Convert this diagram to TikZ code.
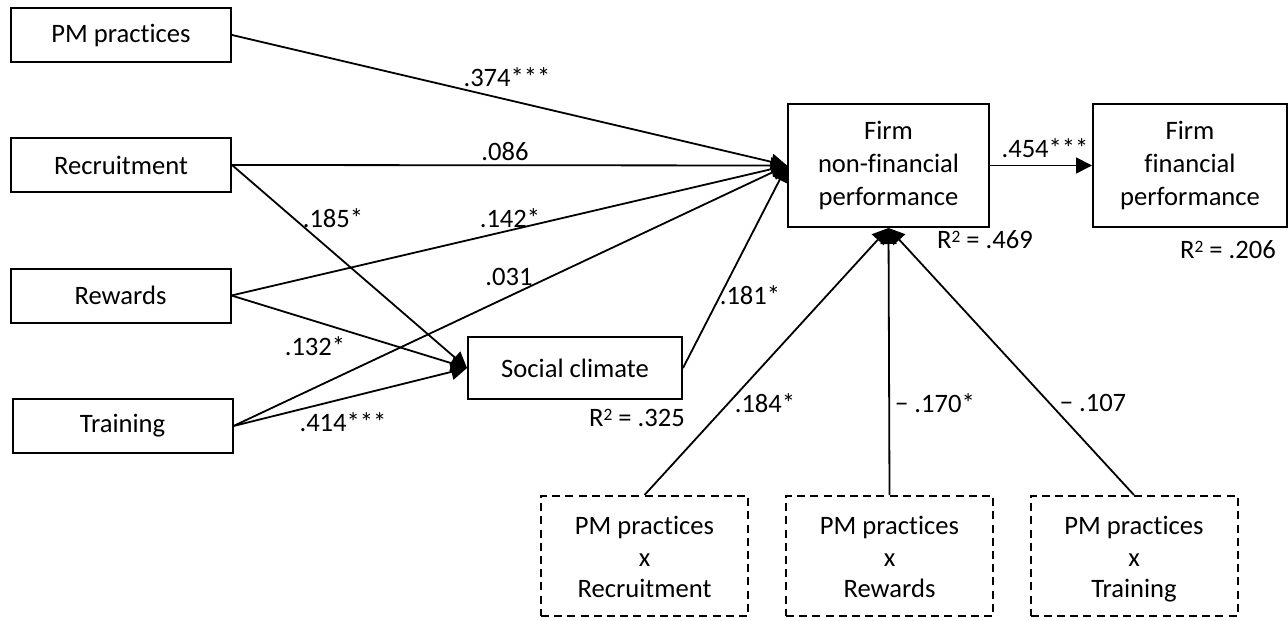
\documentclass[tikz,border=0pt]{standalone}
\usepackage{fontspec}
\setmainfont{Carlito}[Ligatures={NoCommon,NoContextual}]
\usetikzlibrary{arrows.meta}
\newcommand{\rsq}{R\raisebox{3.1pt}{\fontsize{8.7}{9}\selectfont 2}}
\newcommand{\ibox}[1]{\raisebox{-2pt}[\height][\depth]{\renewcommand{\arraystretch}{0.955}\begin{tabular}{@{}c@{}}#1\end{tabular}}}
\begin{document}
\begin{tikzpicture}[x=0.5pt,y=-0.5pt,
 box/.style={draw, line width=1pt, inner sep=0pt, align=center, font=\fontsize{13.3}{16.5}\selectfont},
 lbox/.style={box, minimum width=110pt, minimum height=27pt},
 dbox/.style={box, dash pattern=on 4pt off 2.6pt, minimum width=103.5pt, minimum height=60pt},
 lab/.style={inner sep=0pt, font=\fontsize{13.3}{16}\selectfont},
 arr/.style={line width=0.9pt, -{Triangle[length=8pt,width=8pt]}}
]
\useasboundingbox (0,0) rectangle (1288,620);
\node[lbox] (pm)  at (121,35)    {PM practices};
\node[lbox] (rec) at (121,165)   {Recruitment};
\node[lbox] (rew) at (120.5,295.5) {Rewards};
\node[lbox] (tr)  at (122.5,426) {Training};
\node[box, minimum width=107pt, minimum height=31pt] (sc) at (575,368) {Social climate};
\node[box, minimum width=100.5pt, minimum height=61.5pt] (nf) at (888.5,165.5) {\strut Firm\\non-financial\\performance\strut};
\node[box, minimum width=97pt, minimum height=61.5pt] (ff) at (1190,165.5) {\strut Firm\\financial\\performance\strut};
\node[dbox] (i1) at (644.5,556) {\ibox{PM practices\\x\\Recruitment}};
\node[dbox] (i2) at (889.5,556) {\ibox{PM practices\\x\\Rewards}};
\node[dbox] (i3) at (1134,556)  {\ibox{PM practices\\x\\Training}};

\draw[arr] (pm.east) -- (nf.west);
\draw[arr] (rec.east) -- (nf.west);
\draw[arr] (rew.east) -- (nf.west);
\draw[arr] (tr.east) -- (nf.west);
\draw[arr] (sc.east) -- (nf.west);
\draw[arr] (rec.east) -- (sc.west);
\draw[arr] (rew.east) -- (sc.west);
\draw[arr] (tr.east) -- (sc.west);
\draw[arr] (i1.north) -- (nf.south);
\draw[arr] (i2.north) -- (nf.south);
\draw[arr] (i3.north) -- (nf.south);
\draw[arr] (nf.east) -- (ff.west);

\node[lab] (l1)  at (507,77)   {.374***};
\node[lab] (l2)  at (505,152)  {.086};
\node[lab] (l3)  at (333,218)  {.185*};
\node[lab] (l4)  at (510,218)  {.142*};
\node[lab] (l5)  at (509,277)  {.031};
\node[lab] (l6)  at (315,346)  {.132*};
\node[lab] (l7)  at (343,422)  {.414***};
\node[lab] (l8)  at (750,295)  {.181*};
\node[lab] (l9)  at (765,403)  {.184*};
\node[lab] (l10) at (935,403)  {− .170*};
\node[lab] (l11) at (1093,403) {− .107};
\node[lab] (l12) at (1045,148) {.454***};
\node[lab] (r1)  at (985,240)  {\rsq{} = .469};
\node[lab] (r2)  at (1228,250) {\rsq{} = .206};
\node[lab] (r3)  at (637,418)  {\rsq{} = .325};
\end{tikzpicture}
\end{document}
